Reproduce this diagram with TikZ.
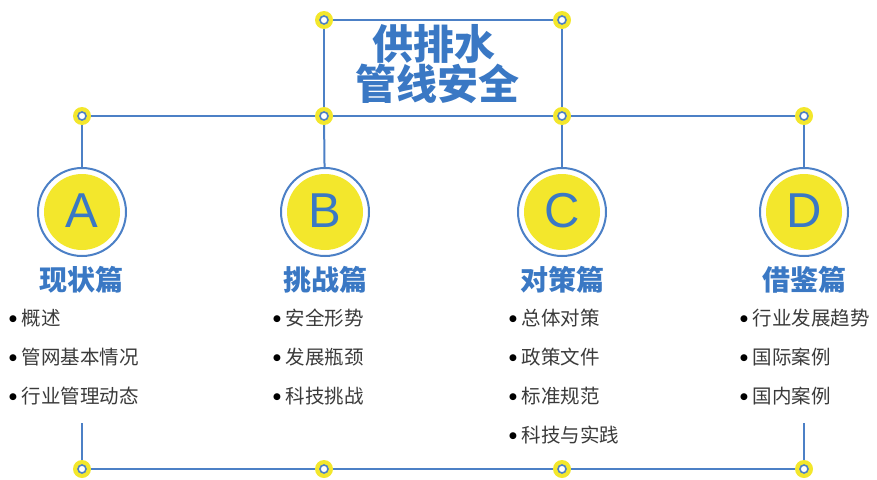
\documentclass[tikz,border=0pt]{standalone}
\usepackage{fontspec}
\setmainfont{Liberation Sans}
\newfontfamily\cjk{Noto Sans CJK SC}
\newfontfamily\dejavu{DejaVu Sans}
\definecolor{tblue}{HTML}{3A78C4}
\definecolor{lblue}{HTML}{4C80C6}
\definecolor{yel}{HTML}{F3E72C}
\definecolor{tgray}{HTML}{3A3A3A}
\tikzset{
  conn/.style={lblue, line width=2pt},
  jointdot/.style={circle, fill=yel, minimum size=18pt, inner sep=0pt},
  jointring/.style={circle, draw=lblue, line width=1.6pt, fill=white, minimum size=8pt, inner sep=0pt},
  bigcirc/.style={circle, draw=lblue, line width=2pt, fill=white, minimum size=88pt, inner sep=0pt},
  innercirc/.style={circle, fill=yel, minimum size=76pt, inner sep=0pt},
  letter/.style={text=tblue, font=\fontsize{49}{49}\selectfont, inner sep=0pt},
  heading/.style={text=tblue, font=\cjk\bfseries\fontsize{28}{28}\selectfont, inner sep=0pt},
  titletext/.style={text=tblue, font=\cjk\bfseries\fontsize{41}{41}\selectfont, inner sep=0pt},
  item/.style={text=tgray, font=\cjk\fontsize{19.5}{19.5}\selectfont, inner sep=0pt, anchor=west},
}
\newcommand{\bul}{\raisebox{4.3pt}{\color{black}\dejavu\fontsize{9}{9}\selectfont ●}\hspace{4.5pt}}
\begin{document}
\begin{tikzpicture}[x=1pt,y=-1pt]
\useasboundingbox (0,0) rectangle (877,479);
% joint coordinates
\coordinate (j1) at (324,20);
\coordinate (j2) at (562,20);
\coordinate (jA) at (82,116);
\coordinate (jB) at (324,116);
\coordinate (jC) at (562,116);
\coordinate (jD) at (804,116);
\coordinate (kA) at (82,469);
\coordinate (kB) at (324,469);
\coordinate (kC) at (562,469);
\coordinate (kD) at (804,469);
\coordinate (eA) at (82,423);
\coordinate (eD) at (804,423);
% circles
\foreach \n/\x/\l in {A/82/A,B/325/B,C/562/C,D/804/D}{
  \node[bigcirc] (c\n) at (\x,212) {};
  \node[innercirc] (y\n) at (\x,212) {};
  \node[letter] (L\n) at (\x,210.5) {\l};
}
% connectors
\draw[conn] (j1) -- (j2);
\draw[conn] (j1) -- (jB);
\draw[conn] (j2) -- (jC);
\draw[conn] (jA) -- (jD);
\draw[conn] (jA) -- (cA);
\draw[conn] (jB) -- (cB);
\draw[conn] (jC) -- (cC);
\draw[conn] (jD) -- (cD);
\draw[conn] (eA) -- (kA) -- (kD) -- (eD);
% joints
\foreach \j in {j1,j2,jA,jB,jC,jD,kA,kB,kC,kD}{
  \node[jointdot] (\j-dot) at (\j) {};
  \node[jointring] (\j-ring) at (\j) {};
}
% title
\node[titletext] (t1) at (434,44) {供排水};
\node[titletext] (t2) at (437,84) {管线安全};
% headings
\node[heading] (hA) at (81,280) {现状篇};
\node[heading] (hB) at (325,280) {挑战篇};
\node[heading] (hC) at (562,280) {对策篇};
\node[heading] (hD) at (804,280) {借鉴篇};
% items
\node[item] (a1) at (9,318) {\bul 概述};
\node[item] (a2) at (9,357) {\bul 管网基本情况};
\node[item] (a3) at (9,396) {\bul 行业管理动态};
\node[item] (b1) at (273,318) {\bul 安全形势};
\node[item] (b2) at (273,357) {\bul 发展瓶颈};
\node[item] (b3) at (273,396) {\bul 科技挑战};
\node[item] (c1) at (509,318) {\bul 总体对策};
\node[item] (c2) at (509,357) {\bul 政策文件};
\node[item] (c3) at (509,396) {\bul 标准规范};
\node[item] (c4) at (509,435) {\bul 科技与实践};
\node[item] (d1) at (740,318) {\bul 行业发展趋势};
\node[item] (d2) at (740,357) {\bul 国际案例};
\node[item] (d3) at (740,396) {\bul 国内案例};
\end{tikzpicture}
\end{document}
